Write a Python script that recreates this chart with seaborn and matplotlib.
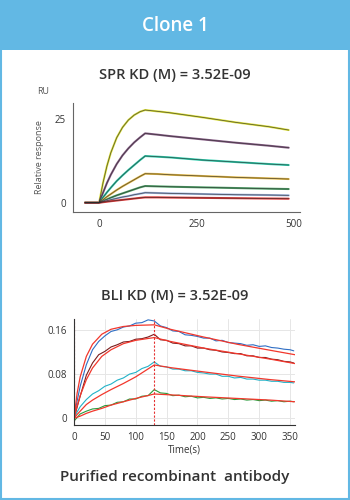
import numpy as np
import matplotlib
matplotlib.use("Agg")
import matplotlib.pyplot as plt
import matplotlib.patches as mpatches
from matplotlib.ticker import MultipleLocator
import seaborn as sns
import pandas as pd

# ---------------- data ----------------
header = "Clone 1"
spr_title = "SPR KD (M) = 3.52E-09"
bli_title = "BLI KD (M) = 3.52E-09"
footer = "Purified recombinant  antibody"

# SPR sensorgram (time in s, response in RU)
spr_time = [-36, 0, 10, 20, 30, 45, 60, 75, 90, 105, 118, 150, 180, 265, 350, 435, 486]
spr_c1 = [0, 0, 6.0, 11.0, 15.0, 19.5, 22.6, 24.8, 26.3, 27.3, 27.8, 27.4, 27.0, 25.6, 24.1, 22.8, 21.8]
spr_c2 = [0, 0, 3.0, 5.9, 8.4, 11.6, 14.2, 16.3, 18.1, 19.6, 20.8, 20.4, 20.0, 19.0, 18.0, 17.1, 16.5]
spr_c3 = [0, 0, 1.6, 3.1, 4.5, 6.5, 8.2, 9.8, 11.3, 12.8, 14.0, 13.8, 13.6, 12.8, 12.2, 11.6, 11.3]
spr_c4 = [0, 0, 0.9, 1.8, 2.6, 3.8, 4.9, 5.9, 6.9, 7.9, 8.7, 8.6, 8.4, 8.0, 7.6, 7.3, 7.1]
spr_c5 = [0, 0, 0.5, 1.0, 1.5, 2.2, 2.8, 3.4, 4.0, 4.6, 5.0, 4.9, 4.8, 4.6, 4.4, 4.2, 4.1]
spr_c6 = [0, 0, 0.3, 0.6, 0.9, 1.3, 1.7, 2.0, 2.4, 2.7, 3.0, 2.9, 2.8, 2.6, 2.4, 2.3, 2.2]
spr_c7 = [0, 0, 0.15, 0.3, 0.45, 0.65, 0.85, 1.05, 1.25, 1.45, 1.6, 1.6, 1.55, 1.45, 1.35, 1.25, 1.2]
spr_colors = ["#dfe33a", "#8a6089", "#2fd0b0", "#e8bc45", "#4fa56a", "#9db3de", "#e43a3a"]

# BLI sensorgram (time in s, response in nm)
bli_time = [0, 10, 20, 30, 40, 50, 60, 70, 80, 90, 100, 110, 120, 130, 140, 150, 160, 170,
            180, 190, 200, 210, 220, 230, 240, 250, 260, 270, 280, 290, 300, 310, 320,
            330, 340, 350, 356]
bli_blue = [0.004, 0.058, 0.097, 0.124, 0.139, 0.149, 0.157, 0.160, 0.165, 0.167, 0.172, 0.173,
            0.178, 0.176, 0.167, 0.164, 0.158, 0.157, 0.151, 0.150, 0.148, 0.145, 0.145,
            0.140, 0.141, 0.137, 0.136, 0.135, 0.132, 0.133, 0.130, 0.131, 0.128, 0.127,
            0.125, 0.124, 0.122]
bli_maroon = [0.000, 0.040, 0.078, 0.100, 0.115, 0.121, 0.129, 0.133, 0.138, 0.139, 0.143, 0.144,
              0.147, 0.152, 0.142, 0.141, 0.136, 0.135, 0.131, 0.131, 0.127, 0.127, 0.124,
              0.123, 0.120, 0.119, 0.117, 0.117, 0.113, 0.113, 0.110, 0.110, 0.107, 0.106,
              0.103, 0.102, 0.100]
bli_cyan = [0.002, 0.021, 0.034, 0.044, 0.050, 0.058, 0.062, 0.069, 0.073, 0.080, 0.083, 0.090,
            0.094, 0.102, 0.094, 0.093, 0.089, 0.089, 0.086, 0.086, 0.083, 0.082, 0.080,
            0.080, 0.076, 0.076, 0.073, 0.074, 0.071, 0.071, 0.069, 0.069, 0.067, 0.067,
            0.065, 0.065, 0.064]
bli_green = [-0.005, 0.008, 0.013, 0.017, 0.018, 0.023, 0.024, 0.029, 0.030, 0.035, 0.035, 0.040,
             0.041, 0.052, 0.046, 0.045, 0.041, 0.042, 0.039, 0.040, 0.037, 0.038, 0.036,
             0.037, 0.035, 0.036, 0.034, 0.035, 0.033, 0.034, 0.032, 0.033, 0.031, 0.032,
             0.030, 0.031, 0.030]
bli_colors = ["#2f6ec4", "#7a1c1c", "#22b2c8", "#2a9c3c"]

fit_time = [0, 5, 10, 20, 30, 45, 60, 80, 100, 130, 156, 210, 264, 318, 358]
fit_1 = [0, 0.045, 0.075, 0.112, 0.134, 0.152, 0.161, 0.166, 0.168, 0.169, 0.161, 0.147, 0.134, 0.123, 0.115]
fit_2 = [0, 0.022, 0.041, 0.070, 0.091, 0.112, 0.124, 0.135, 0.141, 0.146, 0.139, 0.127, 0.117, 0.107, 0.099]
fit_3 = [0, 0.007, 0.013, 0.025, 0.033, 0.043, 0.052, 0.063, 0.075, 0.0965, 0.0917, 0.084, 0.0765, 0.070, 0.066]
fit_4 = [0, 0.002, 0.004, 0.009, 0.013, 0.018, 0.024, 0.030, 0.036, 0.044, 0.0425, 0.039, 0.036, 0.033, 0.030]
inject_end = 130

# ---------------- style ----------------
sns.set_style("white")
plt.rcParams["font.family"] = ["Open Sans", "DejaVu Sans"]
text_col = "#333333"
frame_col = "#62b8e4"

fig = plt.figure(figsize=(3.5, 5), dpi=100)

# header band and light-blue frame
fig.patches.append(mpatches.Rectangle((0, 0.9), 1, 0.1, transform=fig.transFigure,
                                      facecolor=frame_col, edgecolor="none", zorder=0))
fig.patches.append(mpatches.Rectangle((0.002, 0.002), 0.996, 0.996, transform=fig.transFigure,
                                      facecolor="none", edgecolor=frame_col, lw=1.5, zorder=0))
fig.text(0.5, 0.948, header, color="white", fontsize=13.5, fontweight="semibold",
         ha="center", va="center")
fig.text(0.5, 0.85, spr_title, color=text_col, fontsize=10.5, fontweight="semibold",
         ha="center", va="center")
fig.text(0.5, 0.408, bli_title, color=text_col, fontsize=10.5, fontweight="semibold",
         ha="center", va="center")
fig.text(0.5, 0.045, footer, color=text_col, fontsize=11, fontweight="semibold",
         ha="center", va="center")

# ---------------- SPR panel ----------------
spr_vals = [spr_c1, spr_c2, spr_c3, spr_c4, spr_c5, spr_c6, spr_c7]
spr_df = pd.DataFrame({
    "time": spr_time * len(spr_vals),
    "resp": np.concatenate(spr_vals),
    "curve": np.repeat([f"c{i}" for i in range(len(spr_vals))], len(spr_time)),
})

ax1 = fig.add_axes([73 / 350, 1 - 211.7 / 500, (300 - 73) / 350, (211.7 - 102.7) / 500])
sns.lineplot(data=spr_df, x="time", y="resp", hue="curve", palette=spr_colors,
             estimator=None, sort=False, lw=1.5, legend=False, ax=ax1)
sns.lineplot(data=spr_df, x="time", y="resp", units="curve", color="#2a2a2a",
             estimator=None, sort=False, lw=0.6, alpha=0.7, legend=False, ax=ax1)
ax1.set_xlim(-67, 515)
ax1.set_ylim(-2.7, 30)
ax1.set_xticks([0, 250, 500])
ax1.xaxis.set_minor_locator(MultipleLocator(125))
ax1.set_yticks([0, 25])
ax1.yaxis.set_minor_locator(MultipleLocator(12.5))
ax1.tick_params(which="both", direction="out", color="#666666", labelcolor=text_col,
                labelsize=7, length=3, width=0.8, pad=2)
ax1.tick_params(which="minor", length=2)
for s in ["top", "right"]:
    ax1.spines[s].set_visible(False)
for s in ["left", "bottom"]:
    ax1.spines[s].set_color("#666666")
    ax1.spines[s].set_linewidth(0.8)
ax1.set_xlabel("")
ax1.set_ylabel("Relative response", fontsize=6.5, color="#555555", labelpad=8)
ax1.text(-0.13, 1.1, "RU", transform=ax1.transAxes, fontsize=6.5, color="#555555",
         ha="center", va="center")

# ---------------- BLI panel ----------------
bli_vals = [bli_blue, bli_maroon, bli_cyan, bli_green]
bli_df = pd.DataFrame({
    "time": bli_time * len(bli_vals),
    "resp": np.concatenate(bli_vals),
    "curve": np.repeat([f"b{i}" for i in range(len(bli_vals))], len(bli_time)),
})
fit_vals = [fit_1, fit_2, fit_3, fit_4]
fit_df = pd.DataFrame({
    "time": fit_time * len(fit_vals),
    "resp": np.concatenate(fit_vals),
    "curve": np.repeat([f"f{i}" for i in range(len(fit_vals))], len(fit_time)),
})

ax2 = fig.add_axes([74 / 350, 1 - 425 / 500, (295 - 74) / 350, (425 - 319.3) / 500])
ax2.set_xlim(0, 358)
ax2.set_ylim(-0.012, 0.179)
ax2.set_xticks(range(0, 351, 50))
ax2.xaxis.set_minor_locator(MultipleLocator(10))
ax2.set_yticks([0, 0.08, 0.16])
ax2.set_yticklabels(["0", "0.08", "0.16"])
ax2.yaxis.set_minor_locator(MultipleLocator(0.02))
ax2.grid(True, which="major", color="#e6e6e6", lw=0.7)
ax2.set_axisbelow(True)
sns.lineplot(data=bli_df, x="time", y="resp", hue="curve", palette=bli_colors,
             estimator=None, sort=False, lw=0.8, legend=False, ax=ax2)
sns.lineplot(data=fit_df, x="time", y="resp", units="curve", color="#f2372c",
             estimator=None, sort=False, lw=0.9, legend=False, ax=ax2)
ax2.axvline(0, color="#e53030", ls=(0, (2, 1.5)), lw=0.8)
ax2.axvline(inject_end, color="#e53030", ls=(0, (2, 1.5)), lw=0.8)
ax2.tick_params(which="both", direction="out", color="#444444", labelcolor=text_col,
                labelsize=7, length=3, width=0.7, pad=2)
ax2.tick_params(which="minor", length=2.5)
for s in ["top", "right"]:
    ax2.spines[s].set_visible(False)
for s in ["left", "bottom"]:
    ax2.spines[s].set_color("#333333")
    ax2.spines[s].set_linewidth(0.8)
ax2.set_xlabel("Time(s)", fontsize=7, color=text_col, labelpad=1)
ax2.set_ylabel("")

fig.savefig("out.png", dpi=100)
